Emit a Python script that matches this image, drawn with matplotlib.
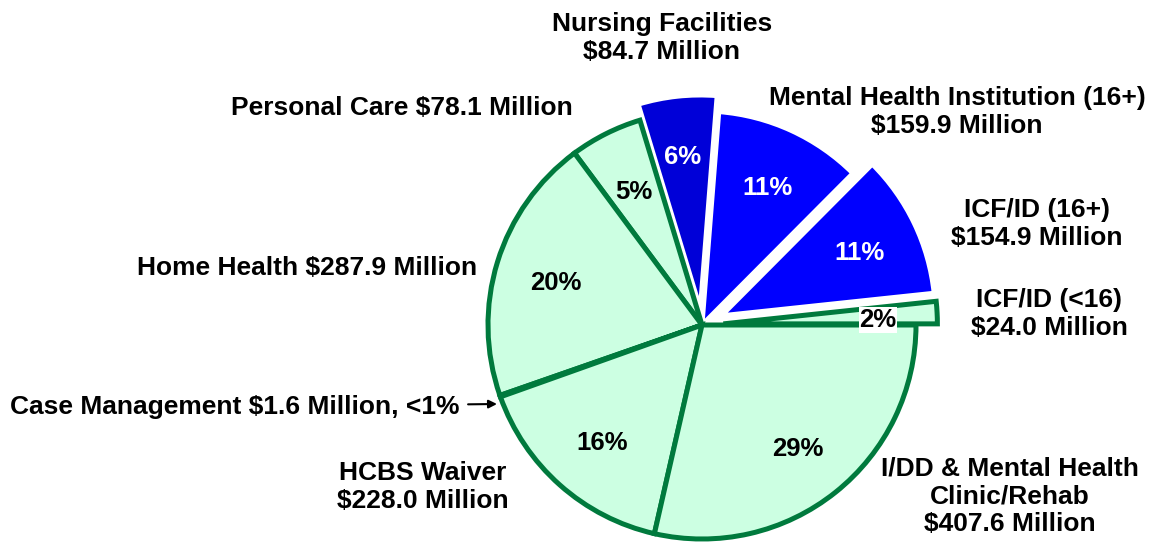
import matplotlib.pyplot as plt

# slices, counterclockwise starting from 3 o'clock
names = ["ICF/ID (<16)", "ICF/ID (16+)", "Mental Health Institution (16+)",
         "Nursing Facilities", "Personal Care", "Home Health",
         "Case Management", "HCBS Waiver", "I/DD & Mental Health Clinic/Rehab"]
spend = [24.0, 154.9, 159.9, 84.7, 78.1, 287.9, 1.6, 228.0, 407.6]
pct_text = ["2%", "11%", "11%", "6%", "5%", "20%", "", "16%", "29%"]
institutional = [False, True, True, True, False, False, False, False, False]

label_text = [
    "ICF/ID (<16)\n$24.0 Million",
    "ICF/ID (16+)\n$154.9 Million",
    "Mental Health Institution (16+)\n$159.9 Million",
    "Nursing Facilities\n$84.7 Million",
    "Personal Care $78.1 Million",
    "Home Health $287.9 Million",
    "Case Management $1.6 Million, <1%",
    "HCBS Waiver\n$228.0 Million",
    "I/DD & Mental Health\nClinic/Rehab\n$407.6 Million",
]

GREEN_FILL = "#ccffe2"
GREEN_EDGE = "#007a3d"
BLUE = "#0000ff"
BLUE_DARK = "#0000d8"

plt.rcParams['font.family'] = ['Liberation Sans', 'DejaVu Sans']

W, H = 1157, 544
CX, CY, R = 702, 325, 214.0


def px(x, y):
    # pixel position in the picture -> pie data units
    return ((x - CX) / R, (CY - y) / R)


fig = plt.figure(figsize=(W / 100, H / 100), dpi=100)
ax = fig.add_axes([0, 0, 1, 1])

explode = [0.10, 0.10, 0.0, 0.075, 0, 0, 0, 0, 0]
wedges, _ = ax.pie(spend, startangle=0, counterclock=True, explode=explode,
                   radius=1.0, normalize=True)

for w, inst, n in zip(wedges, institutional, names):
    if inst:
        w.set_facecolor(BLUE_DARK if n == "Nursing Facilities" else BLUE)
        w.set_edgecolor("white")
        w.set_linewidth(3.5)
        w.set_zorder(1)
    else:
        w.set_facecolor(GREEN_FILL)
        w.set_edgecolor(GREEN_EDGE)
        w.set_linewidth(3.6)
        w.set_zorder(2)
        w.set_joinstyle("miter")

fs_pct = 18.5
fs_lab = 19

# percent labels inside the slices
pct_pos = [(878, 320), (860, 253), (768, 188), (683, 157), (634, 192),
           (556, 283), None, (602, 443), (798, 449)]
for t, pos, inst in zip(pct_text, pct_pos, institutional):
    if not t:
        continue
    x, y = px(*pos)
    kw = {}
    if t == "2%":
        kw["bbox"] = dict(facecolor="white", edgecolor="none", pad=0.3)
    ax.text(x, y, t, ha="center", va="center", fontsize=fs_pct, fontweight="bold",
            color="white" if inst else "black", zorder=5, **kw)

# category labels around the pie
lab_pos = [(1049, 314), (1037, 224), (957, 112), (662, 38), (402, 108),
           (307, 268), (235, 407), (423, 487), (1010, 496)]
for t, pos, n in zip(label_text, lab_pos, names):
    x, y = px(*pos)
    if n == "Case Management":
        continue
    ax.text(x, y, t, ha="center", va="center", fontsize=fs_lab, fontweight="bold",
            color="black", linespacing=1.2)

x, y = px(*lab_pos[6])
ax.annotate(label_text[6], xy=px(497, 404), xytext=(x, y), ha="center", va="center",
            fontsize=fs_lab, fontweight="bold", color="black",
            arrowprops=dict(arrowstyle="-|>", color="black", lw=1.5,
                            mutation_scale=12, shrinkA=4, shrinkB=0))

ax.set_xlim(-CX / R, (W - CX) / R)
ax.set_ylim(-(H - CY) / R, CY / R)
ax.set_aspect("auto")
ax.axis("off")

fig.savefig("out.png", dpi=100)
